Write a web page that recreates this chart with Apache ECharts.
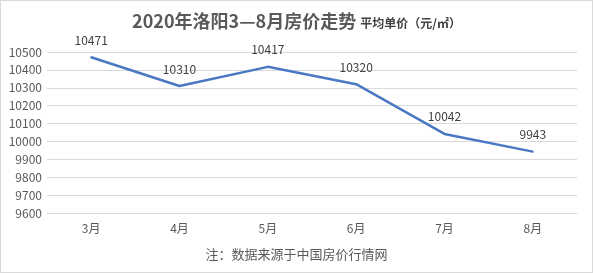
<!DOCTYPE html>
<html>
<head>
    <meta charset="utf-8">
    <title>2020年洛阳3—8月房价走势</title>
    <script src="https://cdn.jsdelivr.net/npm/echarts@6/dist/echarts.min.js"></script>
    <style>
        body { margin: 0; background: #fff; }
        #main { width: 591px; height: 271px; border: 1px solid #d9d9d9; }
    </style>
</head>
<body>
    <div id="main"></div>
    <script type="text/javascript">
        // 月份与均价
        var months = ['3月', '4月', '5月', '6月', '7月', '8月'];
        var prices = [10471, 10310, 10417, 10320, 10042, 9943];
        var yMin = 9600, yMax = 10500, yStep = 100;

        var myChart = echarts.init(document.getElementById('main'));
        var fontFamily = '"Noto Sans CJK SC", "Microsoft YaHei", sans-serif';

        var option = {
            animation: false,
            textStyle: { fontFamily: fontFamily },
            title: {
                left: 'center',
                top: 6,
                text: '{a|2020年洛阳3—8月房价走势} {b|平均单价（元/㎡）}',
                textStyle: {
                    rich: {
                        a: { fontSize: 18, fontWeight: 'bold', color: '#595959', fontFamily: fontFamily },
                        b: { fontSize: 12, fontWeight: 'bold', color: '#404040', fontFamily: fontFamily, padding: [5, 0, 0, 0] }
                    }
                }
            },
            grid: { left: 46, right: 15, top: 51, bottom: 59, containLabel: false },
            xAxis: {
                type: 'category',
                data: months,
                boundaryGap: true,
                axisLine: { lineStyle: { color: '#d9d9d9' } },
                axisTick: { show: false },
                axisLabel: { color: '#595959', fontSize: 12, margin: 9 }
            },
            yAxis: {
                type: 'value',
                min: yMin,
                max: yMax,
                interval: yStep,
                axisLine: { show: false },
                axisTick: { show: false },
                axisLabel: { color: '#595959', fontSize: 12, margin: 5, formatter: function (v) { return String(v); } },
                splitLine: { lineStyle: { color: '#d9d9d9' } }
            },
            series: [{
                type: 'line',
                data: prices,
                showSymbol: true,
                symbol: 'circle',
                symbolSize: 2,
                itemStyle: { color: '#4a78c2' },
                lineStyle: { color: '#4a78c2', width: 2.5 },
                labelLayout: { hideOverlap: false },
                label: {
                    show: true,
                    position: 'top',
                    distance: 10,
                    color: '#404040',
                    fontSize: 12
                }
            }],
            graphic: [{
                type: 'text',
                left: 'center',
                top: 247,
                style: {
                    text: '注：数据来源于中国房价行情网',
                    fill: '#595959',
                    font: '13px ' + fontFamily
                }
            }]
        };

        myChart.setOption(option);
    </script>
</body>
</html>
